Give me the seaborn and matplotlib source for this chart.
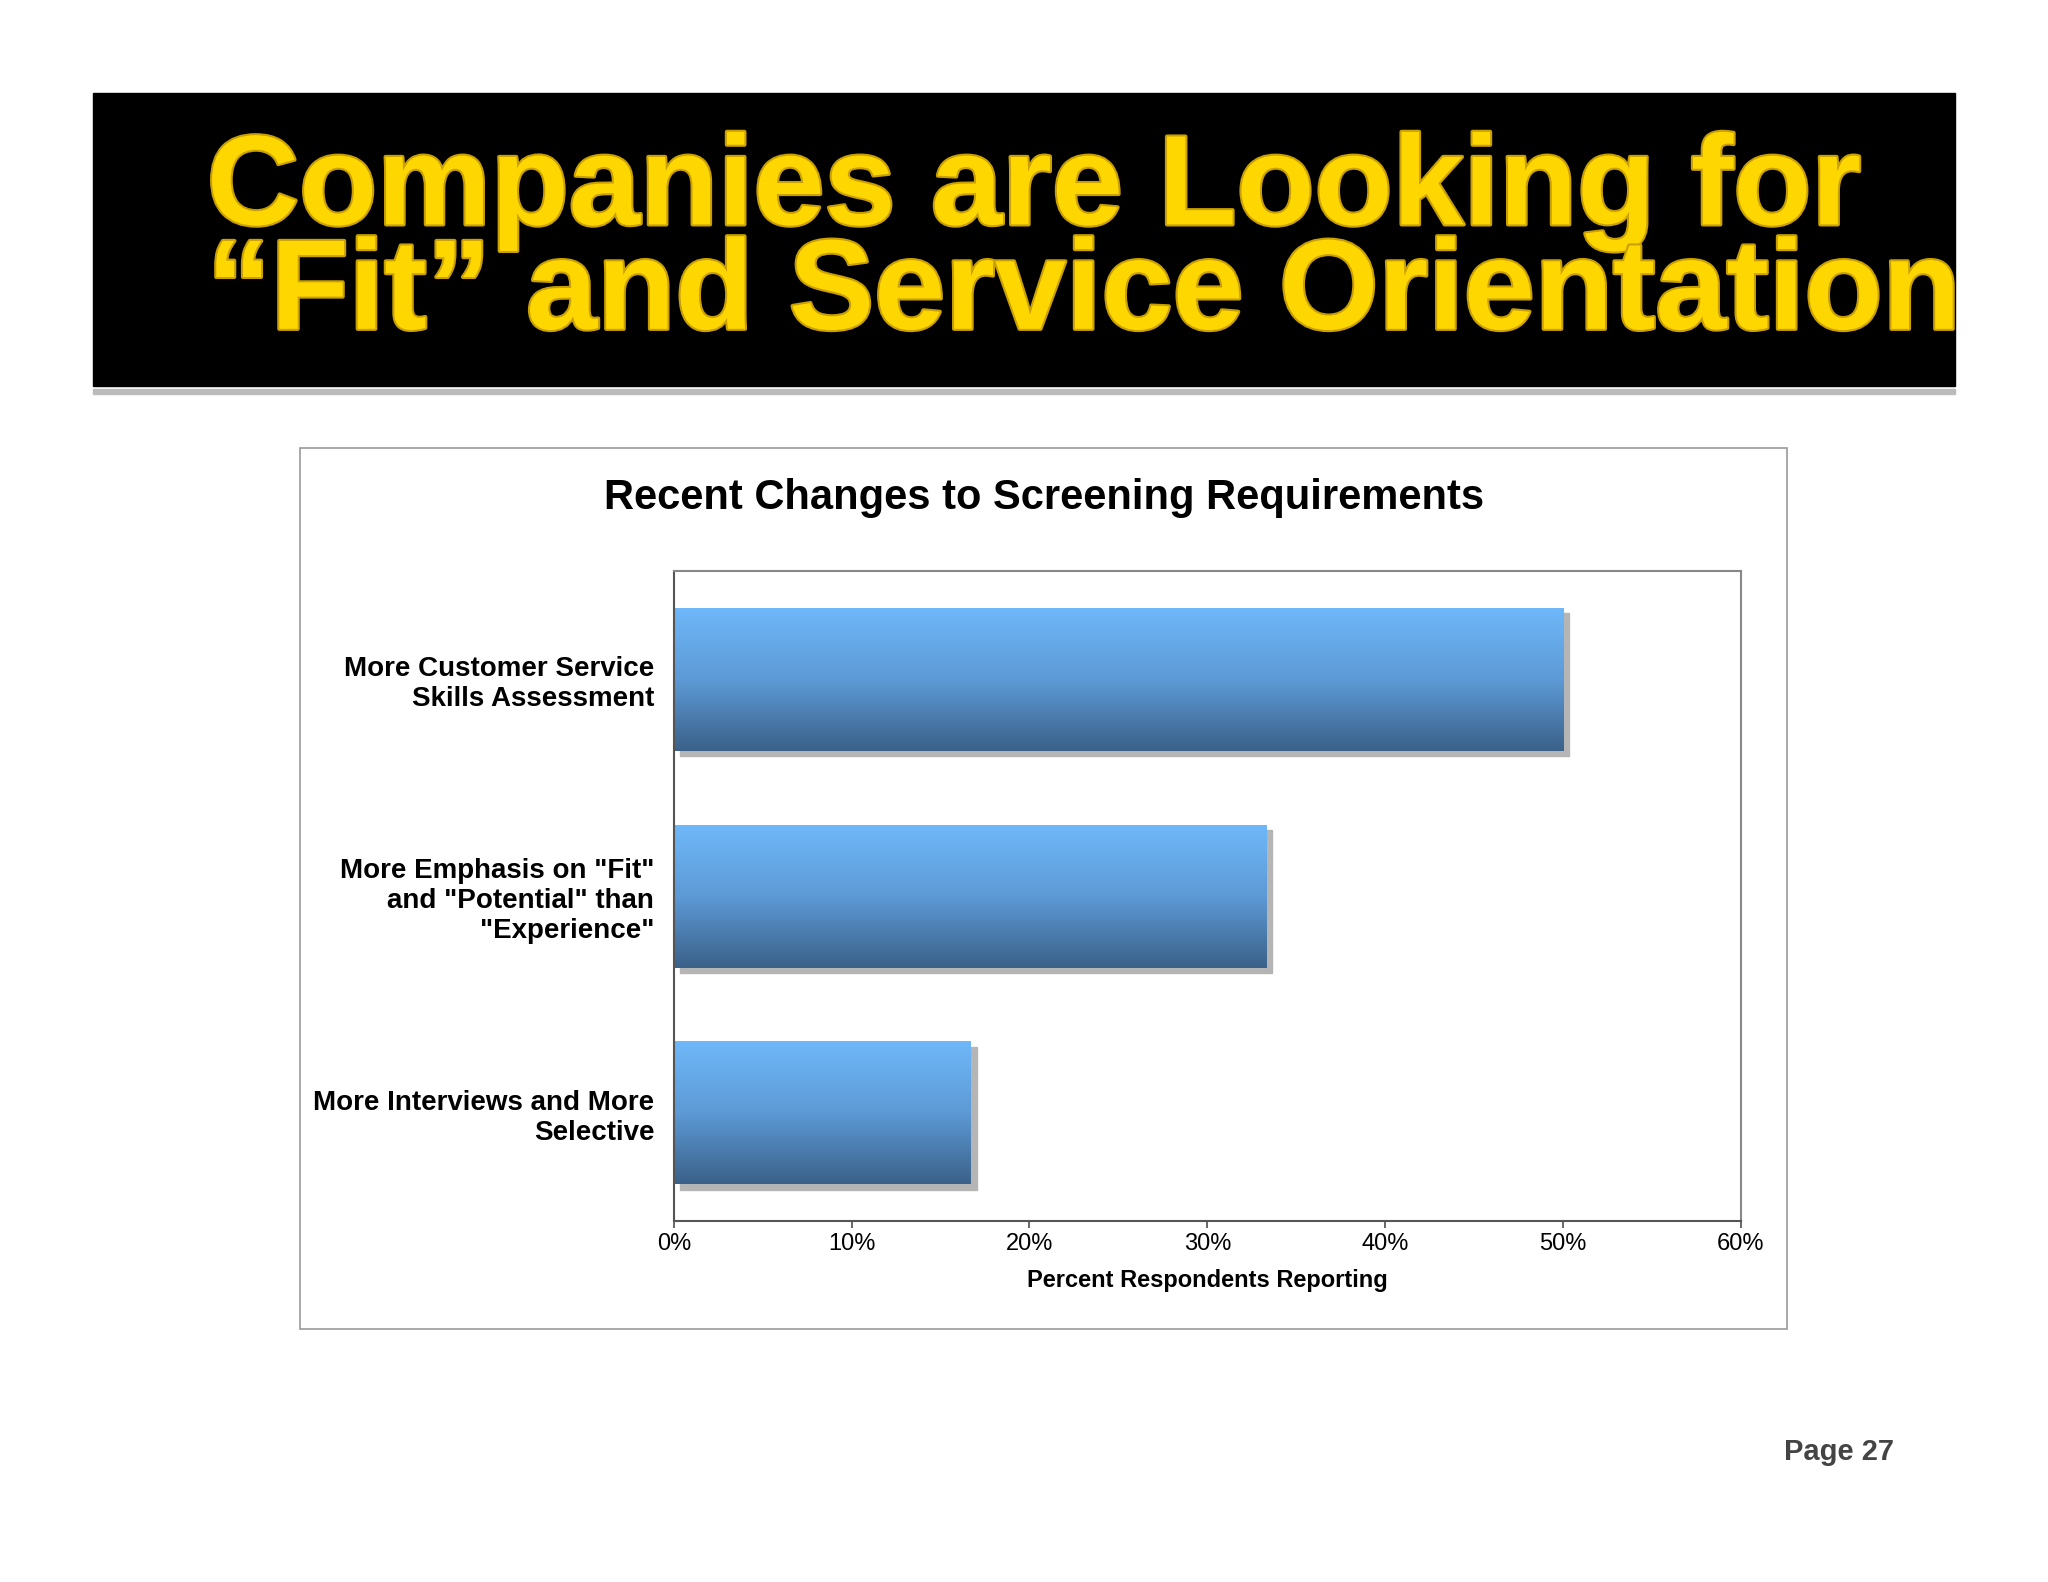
import numpy as np
import pandas as pd
import seaborn as sns
import matplotlib.pyplot as plt
import matplotlib.patches as mpatches
import matplotlib.patheffects as pe
from matplotlib.colors import LinearSegmentedColormap

categories = ['More Customer Service\nSkills Assessment',
              'More Emphasis on "Fit"\nand "Potential" than\n"Experience"',
              'More Interviews and More\nSelective']
values = [50.0, 33.3, 16.7]
xticks = [0, 10, 20, 30, 40, 50, 60]

sns.set_theme(style='white')
plt.rcParams['font.family'] = ['Liberation Sans', 'DejaVu Sans']

fig = plt.figure(figsize=(20.48, 15.82), dpi=100)
fig.patch.set_facecolor('white')

# banner
fig.patches.append(mpatches.Rectangle((0.0453, 0.751), 0.9094, 0.003, transform=fig.transFigure,
                                      color='#bbbbbb', zorder=0))
fig.patches.append(mpatches.Rectangle((0.0453, 0.756), 0.9094, 0.185, transform=fig.transFigure,
                                      color='black', zorder=1))
for yy, txt in [(0.879, 'Companies are Looking for'),
                (0.813, '\u201cFit\u201d and Service Orientation')]:
    fig.text(0.101, yy, txt, color='#FFD700', fontsize=92, fontweight='bold',
             va='center', ha='left',
             path_effects=[pe.withStroke(linewidth=3, foreground='#c9a000')])

# chart frame
fig.patches.append(mpatches.Rectangle((0.1467, 0.160), 0.7257, 0.557, transform=fig.transFigure,
                                      facecolor='white', edgecolor='#999999', lw=1.2, zorder=0))
fig.text(0.51, 0.685, 'Recent Changes to Screening Requirements', fontsize=30,
         fontweight='bold', ha='center', va='center', color='black')
fig.text(0.925, 0.082, 'Page 27', fontsize=21, fontweight='bold', ha='right',
         va='center', color='#444444')

ax = fig.add_axes([0.329, 0.228, 0.521, 0.411])
ax.set_zorder(5)
df = pd.DataFrame({'cat': categories, 'val': values})
sns.barplot(data=df, y='cat', x='val', orient='h', ax=ax, width=0.66,
            color='#5a8fc4', edgecolor='none')
cmap = LinearSegmentedColormap.from_list('g', ['#6fb8fa', '#5d9ad6', '#3b6189'])
grad = np.linspace(0, 1, 256).reshape(-1, 1)
for p in list(ax.patches):
    x0, y0 = p.get_x(), p.get_y()
    w, h = p.get_width(), p.get_height()
    sh = mpatches.Rectangle((x0 + 0.35, y0 + 0.025), w, h, color='#b5b5b5', zorder=1)
    ax.add_patch(sh)
    im = ax.imshow(grad, cmap=cmap, aspect='auto', extent=(x0, x0 + w, y0 + h, y0),
                   zorder=2)
    im.set_clip_path(p)
    p.set_zorder(2)
ax.set_xlim(0, 60)
ax.set_ylim(2.5, -0.5)
ax.set_xticks(xticks)
ax.set_xticklabels([f'{t}%' for t in xticks], fontsize=17)
ax.set_xlabel('Percent Respondents Reporting', fontsize=17, fontweight='bold', labelpad=10,
              color='black')
ax.set_ylabel('')
ax.tick_params(axis='y', labelsize=20, length=0, pad=14, labelcolor='black')
ax.tick_params(axis='x', labelcolor='black')
for lab in ax.get_yticklabels():
    lab.set_fontweight('bold')
    lab.set_multialignment('right')
ax.tick_params(axis='x', length=5, direction='out', bottom=True, color='#555555')
for s in ax.spines.values():
    s.set_color('#888888')
    s.set_linewidth(1.5)
ax.spines['bottom'].set_color('#555555')
ax.spines['left'].set_color('#555555')

fig.savefig('out.png', dpi=100, facecolor='white')
